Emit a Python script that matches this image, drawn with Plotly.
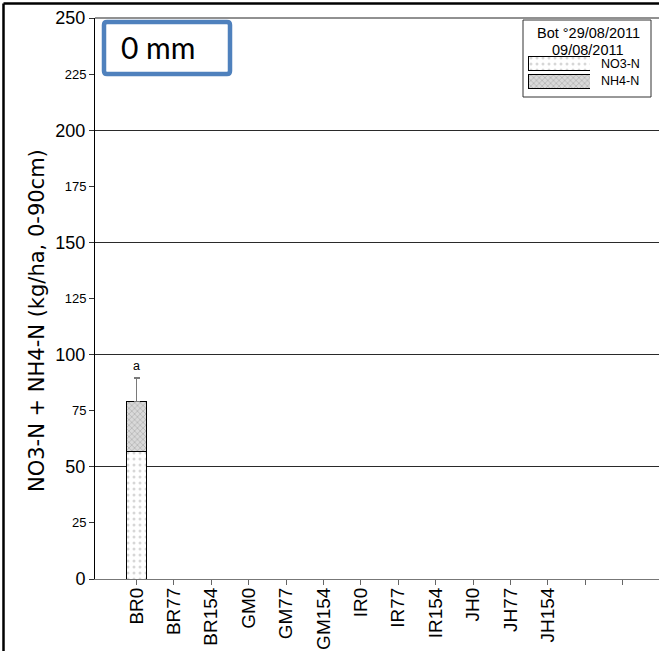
import plotly.graph_objects as go

# ---------------- data ----------------
categories = ["BR0", "BR77", "BR154", "GM0", "GM77", "GM154",
              "IR0", "IR77", "IR154", "JH0", "JH77", "JH154", "", ""]
no3_values = [57.0, None, None, None, None, None, None, None, None, None, None, None]
nh4_values = [22.0, None, None, None, None, None, None, None, None, None, None, None]
total_error = [10.5, 0, 0, 0, 0, 0, 0, 0, 0, 0, 0, 0]
letters = ["a", "", "", "", "", "", "", "", "", "", "", ""]
major_ticks = [0, 50, 100, 150, 200, 250]
minor_ticks = [25, 75, 125, 175, 225]
legend_title_lines = ["Bot °29/08/2011", "09/08/2011"]
series_names = ["NO3-N", "NH4-N"]
panel_label = "0 mm"
y_title = "NO3-N + NH4-N (kg/ha, 0-90cm)"

# ---------------- layout geometry (pixels) ----------------
W, H = 659, 651
L, R, T, B = 95, 659, 18, 579


def px(x):
    return (x - L) / (R - L)


def py(y):
    return (B - y) / (B - T)


FONT = "Liberation Sans, Arial, sans-serif"
xs = list(range(len(no3_values)))

no3_pattern = dict(shape=".", fgcolor="#b0b0b0", bgcolor="white", size=6, solidity=0.2)
nh4_pattern = dict(shape="x", fgcolor="#8c8c8c", bgcolor="#d9d9d9", size=4, solidity=0.35)

fig = go.Figure()
fig.add_trace(go.Bar(
    x=xs, y=no3_values, name=series_names[0], width=0.52,
    marker=dict(color="white", pattern=no3_pattern, line=dict(color="black", width=1)),
    showlegend=False, hoverinfo="skip"))
fig.add_trace(go.Bar(
    x=xs, y=nh4_values, name=series_names[1], width=0.52,
    marker=dict(color="#d9d9d9", pattern=nh4_pattern, line=dict(color="black", width=1)),
    error_y=dict(type="data", symmetric=False, array=total_error,
                 arrayminus=[0] * len(total_error), color="#7a7a7a", thickness=1.5, width=3),
    showlegend=False, hoverinfo="skip"))

# letters above bars
totals = [(a or 0) + (b or 0) for a, b in zip(no3_values, nh4_values)]
for i, (lt, tot, err) in enumerate(zip(letters, totals, total_error)):
    if lt:
        fig.add_annotation(x=i, y=tot + err + 5.5, text=lt, showarrow=False,
                           font=dict(family=FONT, size=12.5, color="black"),
                           xref="x", yref="y")

# minor tick labels on overlaid axis
fig.add_trace(go.Scatter(x=[None], y=[None], yaxis="y3", showlegend=False, hoverinfo="skip"))

# legend swatches on their own small axes
fig.add_trace(go.Bar(
    x=[1], y=[1], orientation="h", xaxis="x2", yaxis="y2", width=0.8,
    marker=dict(color="white", pattern=no3_pattern, line=dict(color="black", width=1)),
    showlegend=False, hoverinfo="skip"))
fig.add_trace(go.Bar(
    x=[1], y=[0], orientation="h", xaxis="x2", yaxis="y2", width=0.8,
    marker=dict(color="#d9d9d9", pattern=nh4_pattern, line=dict(color="black", width=1)),
    showlegend=False, hoverinfo="skip"))

fig.update_layout(
    width=W, height=H,
    margin=dict(l=L, r=W - R, t=T, b=H - B, pad=0),
    paper_bgcolor="white", plot_bgcolor="white",
    barmode="stack",
    font=dict(family=FONT, color="black"),
    xaxis=dict(
        range=[-1.11, 13.97], tickmode="array", tickvals=list(range(len(categories))),
        ticktext=categories, tickangle=-90, tickfont=dict(size=19, family=FONT),
        ticklabelstandoff=-5,
        ticks="outside", ticklen=5, tickcolor="#666", showgrid=False, zeroline=False,
        showline=True, linecolor="#777", linewidth=1, fixedrange=True),
    yaxis=dict(
        range=[0, 250], tickmode="array", tickvals=major_ticks,
        ticktext=[str(v) for v in major_ticks], tickfont=dict(size=18, family=FONT),
        ticks="outside", ticklen=5, tickcolor="#333", showgrid=True, gridcolor="#2a2a2a",
        gridwidth=1, zeroline=False, showline=True, linecolor="black", linewidth=1),
    yaxis3=dict(
        range=[0, 250], overlaying="y", side="left", anchor="x", tickmode="array",
        tickvals=minor_ticks, ticktext=[str(v) for v in minor_ticks],
        tickfont=dict(size=13, family=FONT), ticks="outside", ticklen=5, tickcolor="#333",
        showgrid=False, zeroline=False, showline=False),
    xaxis2=dict(domain=[px(528), px(590)], range=[0, 1], anchor="y2", visible=False),
    yaxis2=dict(domain=[py(90), py(55)], range=[-0.5, 1.5], anchor="x2", visible=False),
)

shapes = []
# top frame line at 250
shapes.append(dict(type="line", xref="paper", yref="paper", x0=0, x1=1, y0=1, y1=1,
                   line=dict(color="#222", width=1)))
# outer border lines (left and top)
shapes.append(dict(type="line", xref="paper", yref="paper", x0=px(3.5), x1=px(3.5),
                   y0=py(H + 5), y1=py(3.5), line=dict(color="black", width=2.5)))
shapes.append(dict(type="line", xref="paper", yref="paper", x0=px(3.5), x1=px(W + 5),
                   y0=py(3.5), y1=py(3.5), line=dict(color="black", width=2.5)))
# legend box
shapes.append(dict(type="rect", xref="paper", yref="paper", x0=px(523), x1=px(651),
                   y0=py(97), y1=py(20), line=dict(color="#333", width=1), fillcolor="white",
                   layer="below"))
# "0 mm" rounded box
x0, x1, y0, y1 = px(104), px(230), py(74), py(22)
rx, ry = 3 / (R - L), 3 / (B - T)
path = (f"M {x0+rx},{y1} L {x1-rx},{y1} Q {x1},{y1} {x1},{y1-ry} L {x1},{y0+ry} "
        f"Q {x1},{y0} {x1-rx},{y0} L {x0+rx},{y0} Q {x0},{y0} {x0},{y0+ry} "
        f"L {x0},{y1-ry} Q {x0},{y1} {x0+rx},{y1} Z")
shapes.append(dict(type="path", xref="paper", yref="paper", path=path,
                   line=dict(color="#4F81BD", width=4.5), fillcolor="white"))
fig.update_layout(shapes=shapes)

# annotations
fig.add_annotation(xref="paper", yref="paper", x=px(119), y=py(47), xanchor="left",
                   yanchor="middle", text=panel_label, showarrow=False,
                   font=dict(family="Lato, Open Sans, sans-serif", size=30, color="black"))
for line_text, yc in zip(legend_title_lines, [33, 50]):
    fig.add_annotation(xref="paper", yref="paper", x=px(588), y=py(yc), xanchor="center",
                       yanchor="middle", text=line_text, showarrow=False,
                       font=dict(family=FONT, size=14.5, color="black"))
for name, yc in zip(series_names, [64, 81]):
    fig.add_annotation(xref="paper", yref="paper", x=px(599), y=py(yc), xanchor="left",
                       yanchor="middle", text=name, showarrow=False,
                       font=dict(family=FONT, size=12.5, color="black"))
fig.add_annotation(xref="paper", yref="paper", x=px(37), y=py(321), xanchor="center",
                   yanchor="middle", text=y_title, textangle=-90,
                   showarrow=False, font=dict(family="DejaVu Sans, sans-serif", size=21, color="black"))

fig.write_html("out.html", config={"displayModeBar": False},
               post_script="document.body.style.margin='0';")
